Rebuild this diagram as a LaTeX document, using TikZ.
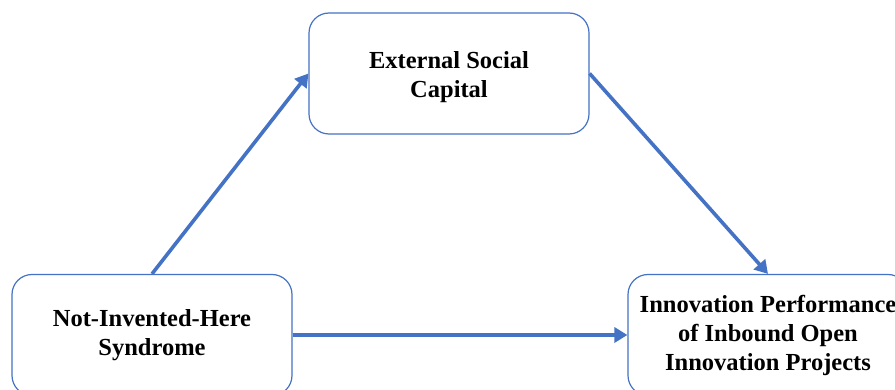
\documentclass[tikz,border=0pt]{standalone}
\usepackage{fontspec}
\setmainfont{Liberation Serif}
\usetikzlibrary{arrows.meta}
\definecolor{officeblue}{HTML}{4472C4}
\tikzset{
  factor/.style={draw=officeblue,line width=1.2pt,rounded corners=20pt,fill=white,
    minimum width=280pt,minimum height=121pt,align=center,
    font=\fontsize{24.5pt}{29pt}\selectfont\bfseries},
  link/.style={officeblue,line width=3.6pt,-{Triangle[length=13pt,width=15pt]}}
}
\begin{document}
\begin{tikzpicture}[x=1pt,y=-1pt]
    \useasboundingbox (0,0) rectangle (895,390);
    % Factores
    \node[factor] (esc) at (449,73.5) {\rule{0pt}{24pt}External Social\\Capital};
    \node[factor] (nih) at (152,335) {Not-Invented-Here\\Syndrome};
    \node[factor] (ipo) at (768,335) {Innovation Performance\\of Inbound Open\\Innovation Projects};
    % Flechas
    \draw[link] (nih.north) -- (esc.west);
    \draw[link] (esc.east) -- (ipo.north);
    \draw[link] (nih.east) -- (ipo.west);
  \end{tikzpicture}
\end{document}
